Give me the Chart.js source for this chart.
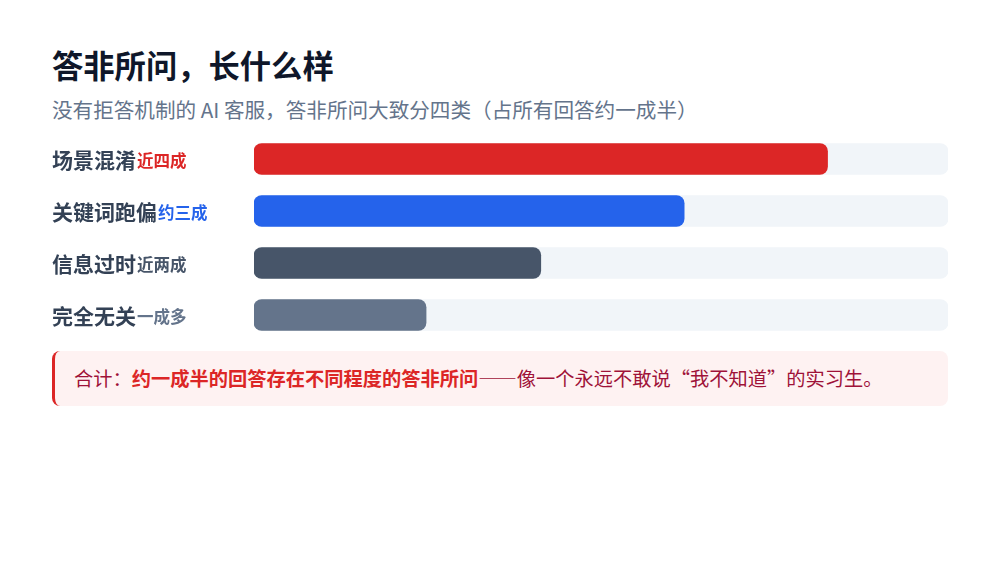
<!DOCTYPE html>
<html lang="zh-CN">
<head>
<meta charset="utf-8">
<title>答非所问，长什么样</title>
<script src="https://cdn.jsdelivr.net/npm/chart.js@4.4.1/dist/chart.umd.min.js"></script>
<style>
  html, body { margin: 0; padding: 0; background: #ffffff; }
  body { width: 1000px; height: 574px; position: relative; overflow: hidden;
         font-family: "Noto Sans CJK SC", "Noto Sans", sans-serif; }
  h1 { position: absolute; left: 52px; top: 43px; margin: 0; font-size: 31.3px; font-weight: 700;
       color: #0f172a; line-height: 44px; }
  .sub { position: absolute; left: 52px; top: 95px; margin: 0; font-size: 20.6px; color: #64748b;
         line-height: 28px; }
  .wrap { position: absolute; left: 52px; top: 133px; width: 896px; height: 208px; }
  .note { position: absolute; left: 52px; top: 351px; width: 896px; height: 55px; box-sizing: border-box;
          background: #fef2f2; border-left: 3px solid #dc2626; border-radius: 8px;
          padding-left: 19px; font-size: 19.25px; line-height: 55px; color: #9f1239; }
  .note b { color: #dc2626; }
</style>
</head>
<body>
<h1>答非所问，长什么样</h1>
<p class="sub">没有拒答机制的 AI 客服，答非所问大致分四类（占所有回答约一成半）</p>
<div class="wrap"><canvas id="barChart"></canvas></div>
<div class="note">合计：<b>约一成半的回答存在不同程度的答非所问</b>——像一个永远不敢说“我不知道”的实习生。</div>

<script>
// 数据
const categories = ['场景混淆', '关键词跑偏', '信息过时', '完全无关'];
const shareLabels = ['近四成', '约三成', '近两成', '一成多'];
const values = [40, 30, 20, 12];
const scaleMax = 48.4;

const barColors = ['#dc2626', '#2563eb', '#475569', '#64748b'];
const trackColor = '#f1f5f9';

// 左侧标签：类别 + 占比
const labelPlugin = {
    id: 'rowLabels',
    afterDraw(chart) {
        const c = chart.ctx;
        const yScale = chart.scales.y;
        c.save();
        c.textBaseline = 'middle';
        categories.forEach((name, i) => {
            const y = yScale.getPixelForValue(i) + 1;
            c.font = '700 21px "Noto Sans CJK SC"';
            c.fillStyle = '#334155';
            c.fillText(name, 0, y);
            const w = c.measureText(name).width;
            c.font = '700 16.5px "Noto Sans CJK SC"';
            c.fillStyle = barColors[i];
            c.fillText(shareLabels[i], w + 1, y + 1);
        });
        c.restore();
    }
};

const ctx = document.getElementById('barChart').getContext('2d');
const barChart = new Chart(ctx, {
    type: 'bar',
    data: {
        labels: categories,
        datasets: [{
            data: values,
            backgroundColor: barColors,
            borderRadius: 8,
            borderSkipped: false,
            barThickness: 31,
            grouped: false,
            order: 1
        }, {
            data: categories.map(() => scaleMax),
            backgroundColor: trackColor,
            borderRadius: 8,
            borderSkipped: false,
            barThickness: 31,
            grouped: false,
            order: 2
        }]
    },
    options: {
        indexAxis: 'y',
        responsive: true,
        maintainAspectRatio: false,
        animation: false,
        events: [],
        layout: { padding: { left: 202, right: 0, top: 0, bottom: 0 } },
        plugins: {
            legend: { display: false },
            tooltip: { enabled: false }
        },
        scales: {
            x: { display: false, min: 0, max: scaleMax },
            y: { display: false }
        }
    },
    plugins: [labelPlugin]
});
</script>
</body>
</html>
